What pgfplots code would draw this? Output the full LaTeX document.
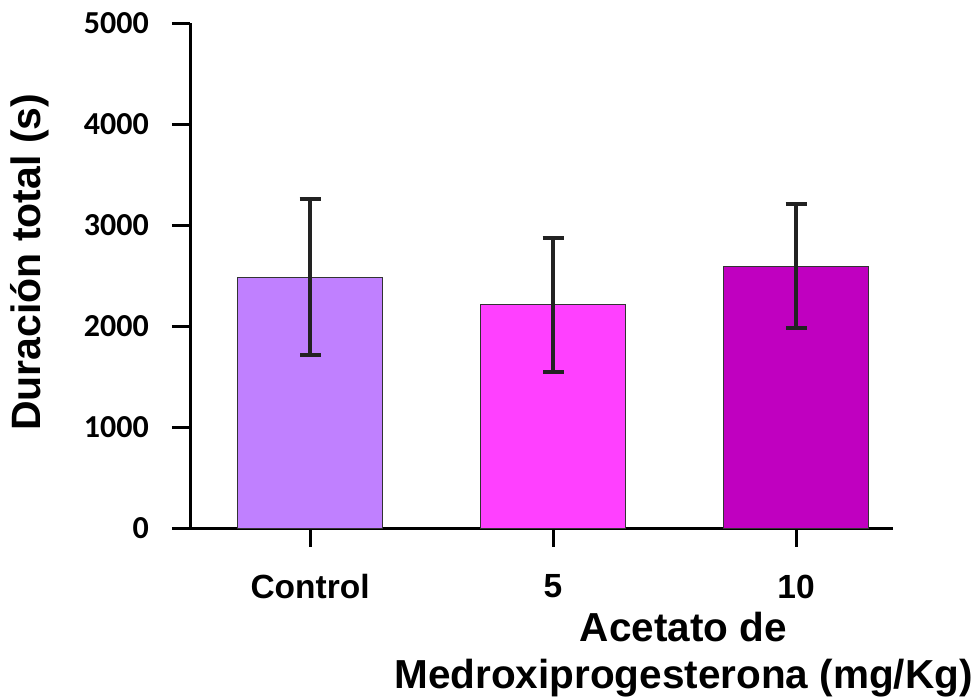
\documentclass[border=0pt]{standalone}
\usepackage{pgfplots}
\pgfplotsset{compat=1.18}
\usepackage{fontspec}
\setmainfont{Liberation Sans}
\newfontfamily\carlito{Carlito}
\definecolor{cctrl}{HTML}{C080FF}
\definecolor{cfive}{HTML}{FF40FF}
\definecolor{cten}{HTML}{C000C0}
\definecolor{errc}{HTML}{222222}
\begin{document}
\begin{tikzpicture}[x=1pt,y=1pt]
\useasboundingbox (0,0) rectangle (976,698);
\begin{axis}[
  at={(190pt,169.5pt)}, anchor=south west,
  scale only axis, width=703pt, height=505pt,
  xmin=-0.494, xmax=2.399, ymin=0, ymax=5000,
  axis x line*=bottom, axis y line*=left,
  axis line style={line width=3pt, -},
  tick style={line width=3pt, black},
  major tick length=18pt, tick align=outside,
  xtick={0,1,2}, xticklabels={Control,5,10},
  ytick={0,1000,2000,3000,4000,5000},
  yticklabels={0,1000,2000,3000,4000,5000},
  minor tick num=0,
  yticklabel style={font=\carlito\bfseries\fontsize{32}{32}\selectfont, inner sep=0pt, anchor=east, xshift=-23pt},
  xticklabel style={font=\bfseries\fontsize{33.5}{33.5}\selectfont, inner sep=0pt, anchor=north, yshift=-28pt},
  xlabel={Acetato de\\Medroxiprogesterona (mg/Kg)},
  xlabel style={align=center, font=\bfseries\fontsize{40.5}{47}\selectfont, at={(axis description cs:0.702,-0.25)}, anchor=center},
  ylabel={Duración total (s)},
  ylabel style={font=\bfseries\fontsize{41}{47}\selectfont, at={(axis description cs:-0.2276,0.527)}, anchor=center},
  ybar, bar width=145pt, bar shift=0pt,
]
\addplot[fill=cctrl, draw=black!80, line width=0.8pt,
  error bars/.cd, y dir=both, y explicit,
  error bar style={line width=4pt, color=errc},
  error mark options={rotate=90, mark size=10.5pt, line width=4pt, color=errc}]
  coordinates {(0,2487) += (0,772) -= (0,769)};
\addplot[fill=cfive, draw=black!80, line width=0.8pt,
  error bars/.cd, y dir=both, y explicit,
  error bar style={line width=4pt, color=errc},
  error mark options={rotate=90, mark size=10.5pt, line width=4pt, color=errc}]
  coordinates {(1,2223) += (0,656) -= (0,670)};
\addplot[fill=cten, draw=black!80, line width=0.8pt,
  error bars/.cd, y dir=both, y explicit,
  error bar style={line width=4pt, color=errc},
  error mark options={rotate=90, mark size=10.5pt, line width=4pt, color=errc}]
  coordinates {(2,2592) += (0,621) -= (0,610)};
\end{axis}
\end{tikzpicture}
\end{document}
